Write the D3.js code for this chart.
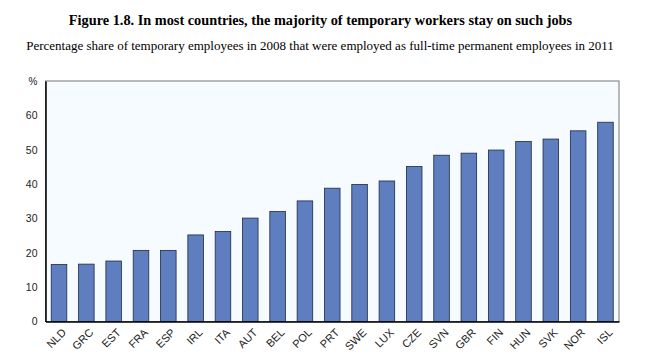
<!DOCTYPE html>
<html><head><meta charset="utf-8">
<script src="https://cdn.jsdelivr.net/npm/d3@7"></script>
<style>body{margin:0;background:#fff;}svg{display:block;}</style>
</head><body>
<svg id="c" width="650" height="355"></svg>
<script>
const countries = ["NLD","GRC","EST","FRA","ESP","IRL","ITA","AUT","BEL","POL","PRT","SWE","LUX","CZE","SVN","GBR","FIN","HUN","SVK","NOR","ISL"];
const values = [16.6,16.7,17.6,20.7,20.7,25.2,26.2,30.1,32.0,35.1,38.8,39.9,40.9,45.1,48.4,49.0,49.9,52.4,53.1,55.5,58.0];
const yTicks = [0,10,20,30,40,50,60];
const title = "Figure 1.8. In most countries, the majority of temporary workers stay on such jobs";
const subtitle = "Percentage share of temporary employees in 2008 that were employed as full-time permanent employees in 2011";

const svg = d3.select("#c");
const m = {left:45.5, right:619, top:81, bottom:321.5};
const x = d3.scaleBand().domain(countries).range([m.left, m.right]).paddingInner(0.43).paddingOuter(0.21);
const y = d3.scaleLinear().domain([0,70]).range([m.bottom, m.top]);

svg.append("text").attr("x",320.5).attr("y",25).attr("text-anchor","middle")
  .attr("font-family","Liberation Serif").attr("font-weight","bold").attr("font-size",14.3).attr("fill","#000").text(title);
svg.append("text").attr("x",320).attr("y",50).attr("text-anchor","middle")
  .attr("font-family","Liberation Serif").attr("font-size",13).attr("fill","#000").text(subtitle);

svg.append("rect").attr("x",m.left).attr("y",m.top).attr("width",m.right-m.left).attr("height",m.bottom-m.top)
  .attr("fill","#f6fbff").attr("stroke","#777").attr("stroke-width",1);

svg.append("g").selectAll("rect").data(values).join("rect")
  .attr("x",(d,i)=>x(countries[i])).attr("width",x.bandwidth())
  .attr("y",d=>y(d)).attr("height",d=>y(0)-y(d))
  .attr("fill","#5e7ebf").attr("stroke","#1f2a44").attr("stroke-width",0.8);

const ya = svg.append("g").attr("transform",`translate(${m.left},0)`)
  .call(d3.axisLeft(y).tickValues(yTicks).tickSize(0).tickPadding(8));
ya.select(".domain").attr("stroke","#000").attr("stroke-width",1.5);
ya.selectAll("text").attr("font-family","Liberation Sans").attr("font-size",10.5).attr("fill","#222");

svg.append("text").attr("x",m.left-8).attr("y",m.top+4).attr("text-anchor","end")
  .attr("font-family","Liberation Sans").attr("font-size",10).attr("fill","#222").text("%");

const xa = svg.append("g").attr("transform",`translate(0,${m.bottom})`)
  .call(d3.axisBottom(x).tickSize(0).tickPadding(0));
xa.select(".domain").attr("stroke","#000").attr("stroke-width",1.5);
xa.selectAll("text").attr("font-family","Liberation Sans").attr("font-size",11).attr("fill","#222")
  .attr("text-anchor","end").attr("dy","0.35em")
  .attr("transform","translate(5,9) rotate(-45)");
</script>
</body></html>
